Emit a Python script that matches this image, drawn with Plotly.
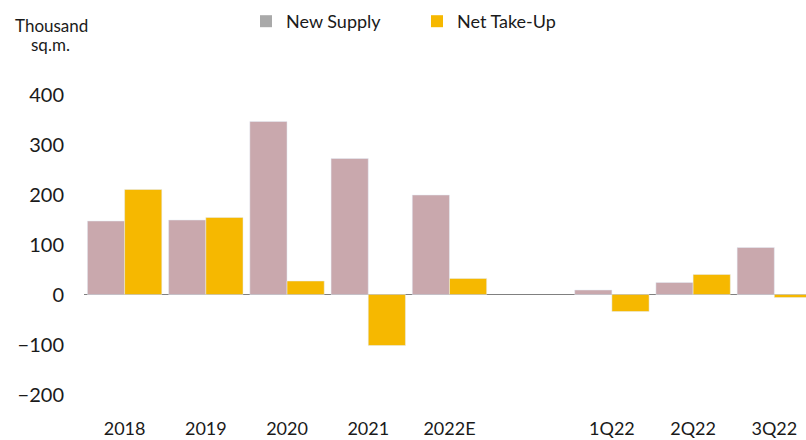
import plotly.graph_objects as go

# Annual figures, a spacer slot, then quarterly figures (thousand sq.m.)
categories = ["2018", "2019", "2020", "2021", "2022E", " ", "1Q22", "2Q22", "3Q22"]
new_supply = [147, 149, 346, 272, 199, None, 9, 24, 94]
net_take_up = [210, 154, 27, -102, 32, None, -34, 40, -6]

supply_color = "#C9A8AD"
takeup_color = "#F6B800"
font_family = "Lato, 'Open Sans', sans-serif"
text_color = "#1a1a1a"

fig = go.Figure()

fig.add_trace(go.Bar(
    x=categories, y=new_supply, name="New Supply",
    marker=dict(color=supply_color), showlegend=False,
))
fig.add_trace(go.Bar(
    x=categories, y=net_take_up, name="Net Take-Up",
    marker=dict(color=takeup_color), showlegend=False,
))

# Legend entries with square swatches
fig.add_trace(go.Scatter(
    x=[None], y=[None], mode="markers", name="New Supply",
    marker=dict(symbol="square", size=10, color="#A9A9A9"),
))
fig.add_trace(go.Scatter(
    x=[None], y=[None], mode="markers", name="Net Take-Up",
    marker=dict(symbol="square", size=10, color=takeup_color),
))

fig.update_layout(
    width=806, height=440,
    margin=dict(l=84, r=0, t=60, b=24),
    paper_bgcolor="white", plot_bgcolor="white",
    barmode="group", bargap=0.084, bargroupgap=0,
    font=dict(family=font_family, color=text_color),
    showlegend=True,
    legend=dict(
        orientation="h", xref="container", yref="container",
        x=246 / 806, y=1 - 3 / 440, xanchor="left", yanchor="top",
        font=dict(size=18, color=text_color),
        itemsizing="constant", itemwidth=30, traceorder="normal",
        entrywidth=126, entrywidthmode="pixels",
        bgcolor="rgba(0,0,0,0)",
    ),
    xaxis=dict(
        type="category", categoryorder="array", categoryarray=categories,
        range=[-0.5, 8.39], showgrid=False, showline=False, ticks="",
        tickfont=dict(size=18, color=text_color), fixedrange=True,
    ),
    yaxis=dict(
        range=[-243, 469], tickmode="array",
        tickvals=[-200, -100, 0, 100, 200, 300, 400],
        showgrid=False, showline=False, ticks="",
        zeroline=True, zerolinecolor="#808080", zerolinewidth=1,
        tickfont=dict(size=20, color=text_color), ticklabelstandoff=19,
        fixedrange=True,
    ),
)

# Unit label in the top-left corner
fig.add_annotation(
    text="Thousand", xref="paper", yref="paper", x=(51 - 84) / 722,
    y=1 + (60 - 22) / 392, xanchor="center", yanchor="middle",
    showarrow=False, font=dict(size=17, color=text_color),
)
fig.add_annotation(
    text="sq.m.", xref="paper", yref="paper", x=(50 - 84) / 722,
    y=1 + (60 - 43) / 392, xanchor="center", yanchor="middle",
    showarrow=False, font=dict(size=17, color=text_color),
)

fig.write_html("out.html", config={"displayModeBar": False})
